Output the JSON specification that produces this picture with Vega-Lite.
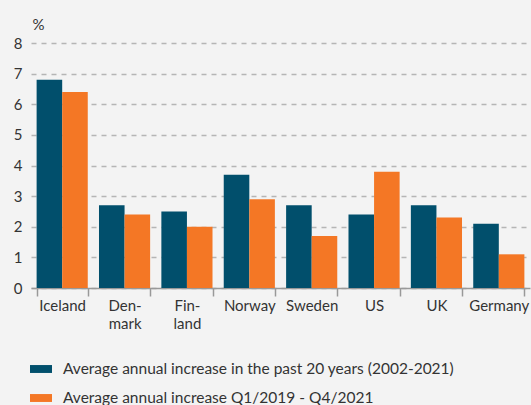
{
  "$schema": "https://vega.github.io/schema/vega-lite/v6.json",
  "width": 499,
  "height": 245,
  "autosize": {"type": "none"},
  "padding": {"left": 31, "top": 43, "right": 1, "bottom": 117},
  "background": "#f3f3f3",
  "config": {
    "view": {"stroke": null},
    "font": "Lato",
    "axis": {"labelFont": "Lato", "titleFont": "Lato", "labelColor": "#333333", "titleColor": "#333333"},
    "legend": {"labelFont": "Lato"}
  },
  "data": {
    "values": [
      {"country": "Iceland", "series": "Average annual increase in the past 20 years (2002-2021)", "value": 6.8},
      {"country": "Iceland", "series": "Average annual increase Q1/2019 - Q4/2021", "value": 6.4},
      {"country": "Denmark", "series": "Average annual increase in the past 20 years (2002-2021)", "value": 2.7},
      {"country": "Denmark", "series": "Average annual increase Q1/2019 - Q4/2021", "value": 2.4},
      {"country": "Finland", "series": "Average annual increase in the past 20 years (2002-2021)", "value": 2.5},
      {"country": "Finland", "series": "Average annual increase Q1/2019 - Q4/2021", "value": 2.0},
      {"country": "Norway", "series": "Average annual increase in the past 20 years (2002-2021)", "value": 3.7},
      {"country": "Norway", "series": "Average annual increase Q1/2019 - Q4/2021", "value": 2.9},
      {"country": "Sweden", "series": "Average annual increase in the past 20 years (2002-2021)", "value": 2.7},
      {"country": "Sweden", "series": "Average annual increase Q1/2019 - Q4/2021", "value": 1.7},
      {"country": "US", "series": "Average annual increase in the past 20 years (2002-2021)", "value": 2.4},
      {"country": "US", "series": "Average annual increase Q1/2019 - Q4/2021", "value": 3.8},
      {"country": "UK", "series": "Average annual increase in the past 20 years (2002-2021)", "value": 2.7},
      {"country": "UK", "series": "Average annual increase Q1/2019 - Q4/2021", "value": 2.3},
      {"country": "Germany", "series": "Average annual increase in the past 20 years (2002-2021)", "value": 2.1},
      {"country": "Germany", "series": "Average annual increase Q1/2019 - Q4/2021", "value": 1.1}
    ]
  },
  "mark": {"type": "bar"},
  "encoding": {
    "x": {
      "field": "country",
      "type": "nominal",
      "sort": null,
      "scale": {"paddingInner": 0.18, "paddingOuter": 0.09},
      "axis": {
        "title": null,
        "labelAngle": 0,
        "labelFontSize": 15,
        "labelPadding": 2,
        "labelLineHeight": 18,
        "labelExpr": "datum.label == 'Denmark' ? ['Den-', 'mark'] : datum.label == 'Finland' ? ['Fin-', 'land'] : datum.label",
        "tickBand": "extent",
        "tickSize": 8,
        "tickColor": "#999999",
        "domainColor": "#999999",
        "domainWidth": 1.5,
        "tickWidth": 1.5
      }
    },
    "xOffset": {"field": "series", "type": "nominal", "sort": null},
    "y": {
      "field": "value",
      "type": "quantitative",
      "scale": {"domain": [0, 8], "nice": false},
      "axis": {
        "title": "%",
        "titleAngle": 0,
        "titleAlign": "left",
        "titleBaseline": "alphabetic",
        "titleX": 1,
        "titleY": -14,
        "titleFontSize": 15,
        "titleFontWeight": "normal",
        "tickCount": 8,
        "labelFontSize": 15,
        "labelPadding": 9,
        "ticks": false,
        "domain": false,
        "grid": true,
        "gridColor": "#b5b5b5",
        "gridDash": [5, 5],
        "gridWidth": 1.5
      }
    },
    "color": {
      "field": "series",
      "type": "nominal",
      "sort": null,
      "scale": {"range": ["#014f6c", "#f47725"]},
      "legend": {
        "title": null,
        "orient": "none",
        "direction": "vertical",
        "legendX": -1,
        "legendY": 315,
        "labelFontSize": 15.5,
        "labelColor": "#333333",
        "symbolType": "M-1,-0.36L1,-0.36L1,0.36L-1,0.36Z",
        "symbolSize": 484,
        "symbolStrokeWidth": 0,
        "rowPadding": 9,
        "labelOffset": 11,
        "labelLimit": 500
      }
    }
  }
}
